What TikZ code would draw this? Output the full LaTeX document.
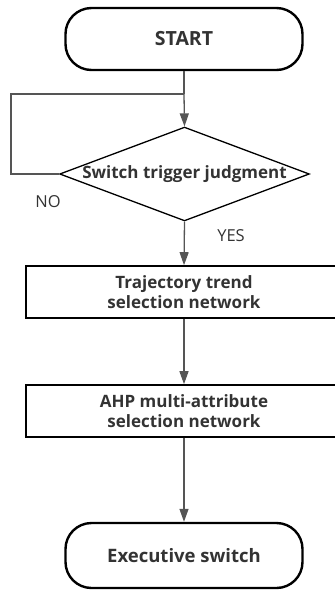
\documentclass[tikz,border=0pt]{standalone}
\usepackage{fontspec}
\setmainfont{Open Sans}
\usetikzlibrary{shapes.geometric,arrows.meta}
\definecolor{txt}{HTML}{333333}
\definecolor{conn}{HTML}{555555}
\tikzset{
  term/.style={draw=black, line width=2.4pt, rounded corners=26pt, minimum width=237pt, minimum height=62pt, text=txt, font=\bfseries\fontsize{19.5}{22}\selectfont},
  proc/.style={draw=black, line width=1.6pt, minimum width=316pt, minimum height=52pt, text=txt, align=center, font=\bfseries\fontsize{17}{20}\selectfont},
  dec/.style={draw=black, line width=1.3pt, diamond, aspect=2.66, minimum width=245pt, minimum height=92pt, inner sep=0pt, text=txt, font=\bfseries\fontsize{17}{20}\selectfont},
  conn/.style={draw=conn, line width=1.3pt, -{Triangle[length=13pt,width=9pt]}},
  plain/.style={draw=conn, line width=1.3pt},
  lbl/.style={text=txt, font=\fontsize{16.5}{20}\selectfont}
}
\begin{document}
\begin{tikzpicture}[x=1pt,y=-1pt]
\clip (0,0) rectangle (335,590);
\node[term] (start) at (184,39) {START};
\node[dec] (judge) at (184.5,174) {Switch trigger judgment};
\node[proc] (traj) at (184,292) {Trajectory trend\\selection network};
\node[proc] (ahp) at (184,411) {AHP multi-attribute\\selection network};
\node[term, minimum height=65pt, font=\bfseries\fontsize{18.5}{22}\selectfont] (exec) at (184,555.5) {Executive switch};
\coordinate (join) at (184,94);
\coordinate (lc) at (11,174);
\coordinate (tl) at (11,94);
\draw[plain] (start.south) -- (join);
\draw[conn] (join) -- (judge.north);
\draw[plain] (judge.west) -- (lc) -- (tl) -- (join);
\node[lbl] (no) at (48,202) {NO};
\node[lbl] (yes) at (231,236) {YES};
\draw[conn] (judge.south) -- (traj.north);
\draw[conn] (traj.south) -- (ahp.north);
\draw[conn] (ahp.south) -- (exec.north);
\end{tikzpicture}
\end{document}
